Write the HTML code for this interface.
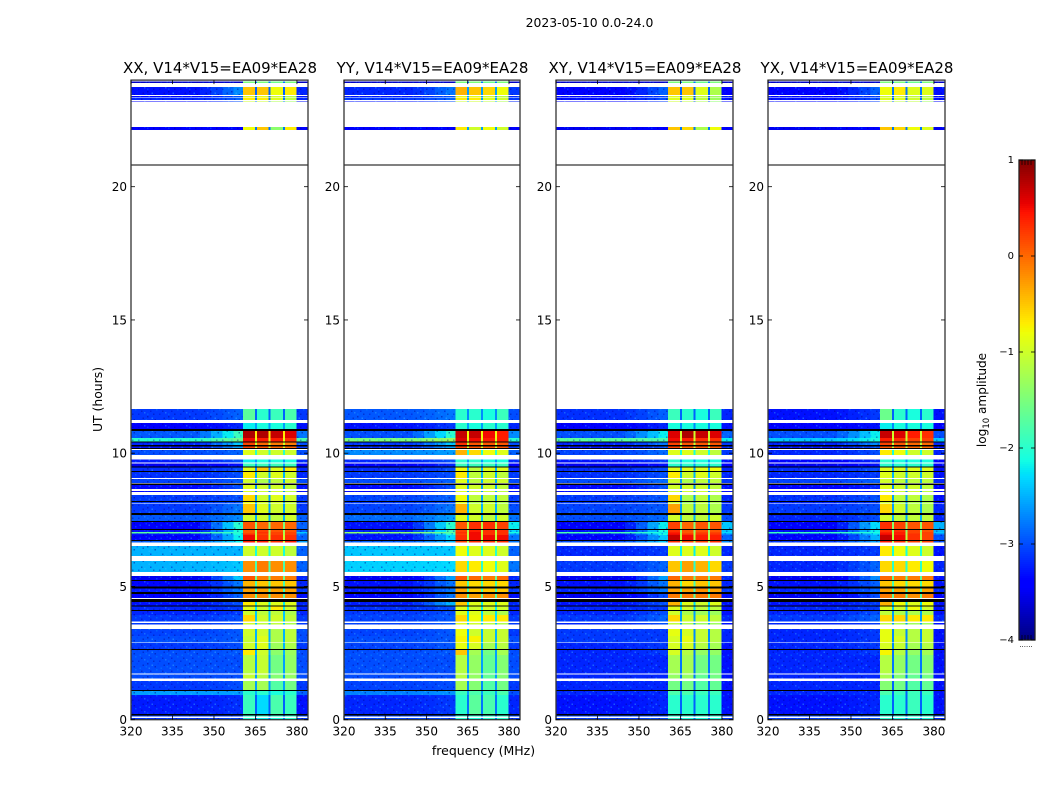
<!DOCTYPE html>
<html lang="en">
<head>
<meta charset="utf-8">
<title>2023-05-10 visibility amplitude waterfall</title>
<style>
html,body{margin:0;padding:0;background:#fff;width:1050px;height:800px;overflow:hidden}
svg{display:block}
text{font-family:"DejaVu Sans","Liberation Sans",sans-serif;fill:#000}
</style>
</head>
<body>
<svg id="chart" xmlns="http://www.w3.org/2000/svg" width="1050" height="800" viewBox="0 0 1050 800">
<defs>
<pattern id="speckle" patternUnits="userSpaceOnUse" width="21" height="13">
<rect x="0" y="0" width="1.5" height="1.5" fill="#00008f" opacity=".45"/>
<rect x="4.5" y="1.5" width="1.5" height="1.5" fill="#40c0ff" opacity=".4"/>
<rect x="10.5" y="0" width="1.5" height="1.5" fill="#0030ff" opacity=".4"/>
<rect x="16.5" y="1.5" width="1.5" height="1.5" fill="#00008f" opacity=".4"/>
<rect x="1.5" y="4.5" width="1.5" height="1.5" fill="#40c0ff" opacity=".35"/>
<rect x="7.5" y="3" width="1.5" height="1.5" fill="#00008f" opacity=".45"/>
<rect x="13.5" y="4.5" width="1.5" height="1.5" fill="#00a0ff" opacity=".35"/>
<rect x="19.5" y="3" width="1.5" height="1.5" fill="#00a0ff" opacity=".3"/>
<rect x="3" y="7.5" width="1.5" height="1.5" fill="#0000c0" opacity=".45"/>
<rect x="9" y="6" width="1.5" height="1.5" fill="#00a0ff" opacity=".35"/>
<rect x="15" y="7.5" width="1.5" height="1.5" fill="#00008f" opacity=".4"/>
<rect x="18" y="9" width="1.5" height="1.5" fill="#40c0ff" opacity=".35"/>
<rect x="6" y="10.5" width="1.5" height="1.5" fill="#00008f" opacity=".4"/>
<rect x="12" y="10.5" width="1.5" height="1.5" fill="#0000c0" opacity=".4"/>
<rect x="0" y="10.5" width="1.5" height="1.5" fill="#00a0ff" opacity=".3"/>
</pattern>
</defs>
</svg>
<script>
/* ---- tick labels and categories ---- */
const panelTitles = ["XX, V14*V15=EA09*EA28","YY, V14*V15=EA09*EA28","XY, V14*V15=EA09*EA28","YX, V14*V15=EA09*EA28"];
const freqTicks = [320,335,350,365,380];
const hourTicks = [0,5,10,15,20];
const colorTicks = [1,0,-1,-2,-3,-4];

/* ---- frequency bins (MHz) ---- */
const freqBinStart = [320,345,349,353,357,360.5,364.8,365.5,369.8,370.5,374.9,375.6,379.9];
const freqBinEnd   = [345,349,353,357,360.5,364.8,365.5,369.8,370.5,374.9,375.6,379.9,384];
/* level slot for each bin: 0-1 blends bg to edge, 2-5 sub-bands, 6 gap, 7 right */
const freqBinLevel = [0,0.15,0.4,0.7,1,2,6,3,6,4,6,5,7];

/* ---- time rows (hours UT) ---- */
const rowStart = [23.89,23.44,23.36,23.25,23.19,22.13,11.25,10.90,10.57,10.44,10.30,10.20,9.93,9.66,9.50,9.33,9.07,8.88,8.65,8.55,8.21,8.12,7.75,7.46,7.16,7.05,6.98,6.93,6.74,6.64,6.14,5.54,5.24,4.99,4.80,4.57,4.28,4.12,3.93,3.68,3.57,3.15,2.90,2.66,2.43,1.74,1.54,1.11,0.93,0.21,0.12,0];
const rowEnd   = [23.94,23.74,23.40,23.34,23.22,22.24,11.66,11.13,10.83,10.57,10.41,10.26,10.12,9.77,9.62,9.47,9.31,9.03,8.81,8.58,8.43,8.18,8.09,7.68,7.41,7.12,7.05,6.98,6.93,6.71,6.52,5.95,5.39,5.20,4.92,4.72,4.42,4.26,4.08,3.93,3.62,3.40,3.15,2.87,2.63,2.43,1.70,1.45,1.08,0.93,0.16,0.06];

/* ---- flagged (black) intervals, hours UT ---- */
const flagStart = [20.79,10.83,10.41,10.26,10.16,9.47,9.31,8.81,8.18,7.68,7.41,7.12,6.71,5.21,4.92,4.72,4.42,4.26,4.08,2.63,1.08,0.16];
const flagEnd   = [20.84,10.90,10.44,10.30,10.20,9.50,9.33,8.87,8.21,7.75,7.46,7.16,6.74,5.24,4.99,4.79,4.53,4.28,4.12,2.66,1.11,0.21];

/* ---- log10 amplitude per row: [bg,edge,b1,b2,b3,b4,gap,right] ---- */
const xxLevels = [
[-3.7,-3.7,-1.5,-1.5,-1.6,-1.5,-2.8,-3.7],[-3.3,-2.7,-0.5,-0.5,-0.8,-0.7,-2.9,-3.2],[-3.4,-3,-0.9,-0.9,-1,-1.2,-2.8,-3.3],[-3.2,-2.9,-0.7,-0.7,-0.9,-1.1,-2.8,-3.2],[-3.4,-3,-1,-1,-1.2,-1.3,-2.8,-3.3],[-3.4,-3.4,-0.8,-0.5,-1.4,-0.7,-2.8,-3.4],
[-3.1,-2.9,-1.7,-2,-1.9,-1.8,-2.9,-3.1],[-3.4,-3.2,-2.2,-2.1,-2.1,-2,-2.6,-3.3],[-2.95,-1.9,0.8,0.8,0.7,0.6,-0.7,-2.8],[-2,-1.6,0.5,0.4,0.4,0.3,-0.9,-1.8],[-3.2,-2.4,0.2,0,-0.1,-0.1,-1,-3],[-3.3,-2.6,0.2,0.1,0,0,-1,-3.1],
[-3,-2.9,-0.9,-1,-1,-1,-2,-3],[-3.25,-3,-2.2,-2.1,-2.1,-2.1,-2.6,-3.2],[-3.5,-3.3,-1.9,-1.9,-1.9,-1.9,-2.6,-3.4],[-3.15,-3,-0.9,-0.5,-0.9,-0.7,-2.7,-3.2],[-3.15,-3,-0.7,-1,-0.9,-1,-2.5,-3.2],[-3.05,-2.95,-1,-1.2,-1.1,-1,-2.6,-3],
[-3.35,-3,-0.9,-1,-1,-1.1,-2.7,-3.3],[-3.35,-3,-0.9,-1,-1,-1.1,-2.7,-3.3],[-3.1,-3,-0.6,-1,-0.9,-1,-2.6,-3.1],[-3.1,-3,-0.8,-1,-1,-1.1,-2.6,-3.1],[-3.1,-2.8,-0.5,-0.9,-1,-1,-2.6,-3.1],[-2.95,-2.7,-1,-1,-1.1,-1,-2.5,-2.9],
[-3.4,-2,0.1,0,0,0,-1.5,-2.9],[-3.3,-2.1,0.1,0.2,0.1,0.1,-1.3,-2.9],[-1.7,-2,0.1,0.3,0.2,0.2,-1.2,-2.4],[-3.3,-2.1,0.3,0.2,0.2,0.2,-1.2,-2.8],[-3.4,-2.2,0.5,0.3,0.3,0.3,-1,-2.9],[-2.9,-2.2,0.4,0.4,0.3,0.4,-1,-2.6],
[-2.5,-2.5,-1,-1,-1,-1.1,-2.1,-2.9],[-2.5,-2.4,-0.2,-0.1,-0.2,-0.2,-1.8,-2.9],[-3.5,-2.4,0.1,-0.1,-0.1,-0.1,-1.6,-3.2],[-3.35,-2.8,-0.4,-0.5,-0.5,-0.5,-1.8,-3.2],[-3.25,-2.8,-0.3,-0.3,-0.3,-0.3,-1.9,-3.1],[-3.4,-2.9,-0.2,-0.2,-0.2,-0.2,-1.7,-3.3],
[-3.3,-3,-0.7,-0.9,-0.9,-0.9,-2.2,-3.2],[-3.2,-3.1,-0.9,-1,-0.7,-1,-2.2,-3.2],[-3.2,-3.1,-1,-1.1,-1.1,-1.2,-2.4,-3.2],[-3.1,-3,-0.6,-1,-1,-1.1,-2.4,-3.1],[-3.1,-3,-1,-1.1,-1.1,-1.2,-2.4,-3.1],
[-3.05,-2.95,-1,-1,-1.2,-1.1,-2.5,-3],[-3,-2.95,-1.05,-0.9,-1.2,-1.1,-2.5,-3],[-3.1,-3,-1,-0.9,-1.3,-1.2,-2.5,-3.1],[-3,-2.95,-0.7,-1,-1.4,-1.3,-2.5,-3],[-3,-3,-1.15,-1.05,-1.55,-1.35,-2.6,-3],[-3,-3,-1.05,-1.15,-1.45,-1.35,-2.6,-3],[-3.1,-3,-1.25,-1.25,-1.75,-1.55,-2.6,-3.1],
[-2.6,-2.6,-2,-2,-2.1,-2,-2.5,-2.9],[-3.25,-3.15,-1.9,-2.3,-1.8,-1.9,-2.9,-3.3],[-3.1,-3.1,-2,-2,-2,-2,-2.8,-3],[-3.15,-3.05,-2,-2.2,-2.1,-2,-2.8,-3.1]
];
const yyLevels = [
[-3.7,-3.7,-1.5,-1.5,-1.6,-1.5,-2.8,-3.7],[-3.2,-2.8,-0.4,-0.5,-0.6,-0.8,-2.6,-3.1],[-3.3,-3,-0.9,-0.9,-1,-1.2,-2.6,-3.2],[-3.1,-2.9,-0.7,-0.7,-0.9,-1,-2.6,-3.1],[-3.3,-3,-1,-1,-1.1,-1.2,-2.6,-3.2],[-3.4,-3.4,-0.7,-1,-0.8,-1,-2.6,-3.4],
[-2.95,-2.8,-2,-2,-2.1,-1.9,-2.7,-3],[-3.3,-3.1,-2,-2.1,-2,-2,-2.6,-3.2],[-3,-2,0.7,0.7,0.5,0.4,-0.8,-2.7],[-1.5,-1.3,0.6,0.5,0.4,0.4,-0.9,-2],[-3.1,-2.4,0.3,0.1,0.1,0.1,-1,-3],[-3.2,-2.6,0.2,0.1,0.1,0.1,-1,-3.1],
[-2.7,-2.6,-0.4,-0.6,-0.8,-0.9,-2,-2.9],[-3.2,-3,-2,-2,-2.1,-2.1,-2.6,-3.2],[-3.4,-3.2,-1.9,-1.9,-1.9,-1.9,-2.6,-3.4],[-3.15,-3,-0.8,-1.1,-0.9,-0.9,-2.5,-3.2],[-3.1,-3,-0.7,-1.1,-1,-1.1,-2.5,-3.1],[-3,-2.9,-0.9,-1.1,-1,-1,-2.5,-3],
[-3.35,-3,-0.9,-1,-1,-1.1,-2.6,-3.3],[-3.35,-3,-0.9,-1,-1,-1.1,-2.6,-3.3],[-3.05,-2.9,-0.8,-1.1,-1.1,-1.1,-2.6,-3.1],[-3.1,-3,-0.9,-1.2,-1.1,-1.2,-2.6,-3.1],[-3.05,-2.8,-0.4,-1,-1,-1.1,-2.5,-3],[-2.85,-2.6,-0.9,-1,-1.1,-1,-2.4,-2.8],
[-3.3,-2,0.1,0.3,0.3,0.2,-1.2,-2.2],[-3.2,-1.9,0.2,0.4,0.3,0.3,-1.2,-2.3],[-1.4,-1.7,0.3,0.5,0.3,0.3,-1,-2.1],[-3.2,-2,0.2,0.5,0.3,0.3,-1.1,-2.6],[-3.3,-2.3,0.3,0.5,0.5,0.5,-1.1,-2.8],[-2.9,-2.5,0.2,0.3,0.3,0.3,-1.2,-2.8],
[-2.4,-2.4,-0.8,-0.9,-0.9,-1,-2,-2.9],[-2.35,-2.3,-0.6,-0.7,-0.8,-0.9,-2,-2.8],[-3.5,-2.6,0.1,0,-0.1,0,-1.6,-3.2],[-3.3,-2.8,-0.5,-0.6,-0.6,-0.6,-1.8,-3.2],[-3.25,-2.8,-0.3,-0.5,-0.5,-0.5,-1.9,-3.1],[-3.4,-2.8,-0.2,-0.3,-0.2,-0.2,-1.7,-3.3],
[-3.25,-2.5,-0.5,-0.9,-0.9,-0.9,-2.2,-3.2],[-3.15,-3,-0.9,-1,-1,-1,-2.2,-3.2],[-3.1,-3,-0.9,-0.9,-1.1,-1.2,-2.3,-3.2],[-3.05,-2.95,-0.6,-0.8,-0.7,-0.7,-2.3,-3.1],[-3.05,-2.95,-0.9,-1,-1.1,-1.2,-2.4,-3.1],
[-3.05,-2.95,-0.8,-1,-1.05,-1.05,-2.5,-3.1],[-3,-2.95,-0.75,-0.75,-1.05,-1.05,-2.5,-3],[-3.05,-2.95,-0.85,-0.95,-1.25,-1.15,-2.5,-3.1],[-3,-2.95,-0.5,-1.25,-1.55,-1.25,-2.6,-3],[-3,-3,-1.15,-1.35,-1.65,-1.45,-2.6,-3],[-3,-3,-1.15,-1.35,-1.65,-1.45,-2.6,-3],[-3.05,-3,-1.25,-1.45,-1.75,-1.55,-2.7,-3.1],
[-2.75,-2.65,-1.9,-1.8,-1.9,-1.8,-2.6,-3],[-3.2,-3.1,-2,-1.7,-1.8,-2,-2.8,-3.2],[-3.05,-3.05,-2,-2,-2,-2,-2.8,-3],[-3.05,-3.05,-2,-2.1,-2,-2,-2.8,-3.1]
];
const xyLevels = [
[-3.7,-3.7,-1.5,-1.5,-1.6,-1.5,-2.8,-3.7],[-3.4,-2.9,-0.5,-0.5,-0.9,-1.2,-2.9,-3.4],[-3.4,-3.1,-0.9,-1,-1.1,-1.3,-3,-3.3],[-3.3,-3,-0.9,-0.9,-1.1,-1.3,-3,-3.3],[-3.4,-3.1,-1,-1.1,-1.2,-1.4,-3,-3.4],[-3.5,-3.4,-0.5,-0.6,-1.2,-0.8,-2.8,-3.4],
[-3.15,-2.9,-1.9,-2,-2.1,-1.9,-2.9,-3.2],[-3.4,-3.2,-2.1,-2.1,-2.1,-2.1,-2.7,-3.3],[-3,-2.2,0.6,0.8,0.7,0.6,-1,-2.9],[-1.7,-1.8,0.5,0.4,0.3,0.3,-1,-2.2],[-3.2,-2.8,0.2,0.1,0.1,0.1,-1.1,-3.1],[-3.3,-3,0.2,0.1,0.1,0.1,-1.1,-3.2],
[-3.05,-2.85,-0.9,-0.9,-1,-1.1,-2.1,-3.1],[-3.3,-3.1,-2,-2.1,-2.1,-2.1,-2.6,-3.3],[-3.5,-3.3,-2,-2,-2,-2,-2.6,-3.4],[-3.15,-3,-0.9,-0.9,-0.9,-0.8,-2.6,-3.2],[-3.15,-3,-0.7,-1,-0.9,-1,-2.5,-3.2],[-3,-2.85,-1,-1.2,-1.1,-1.1,-2.6,-3.1],
[-3.35,-3,-1,-1,-1,-1.1,-2.7,-3.3],[-3.35,-3,-1,-1,-1,-1.1,-2.7,-3.3],[-3.1,-2.95,-0.6,-1.2,-1.1,-1.2,-2.6,-3.2],[-3.1,-3,-1,-1.3,-1.1,-1.2,-2.6,-3.2],[-3.05,-2.95,-0.3,-1.1,-1.1,-1.2,-2.6,-3.1],[-3,-2.85,-1,-1.1,-1.1,-1,-2.5,-3],
[-3.4,-2.2,0.2,0,0.1,0.1,-1.5,-2.4],[-3.3,-2.1,0.3,0.1,0.1,0.1,-1.4,-2.4],[-1.8,-2.2,0.4,0.1,0.2,0.2,-1.3,-2.3],[-3.3,-2.1,0.5,0.3,0.3,0.3,-1.2,-2.7],[-3.4,-2.4,0.7,0.5,0.4,0.4,-1.1,-2.9],[-3,-2.4,0.3,0.2,0.2,0.3,-1.2,-2.7],
[-3.2,-3.1,-0.9,-0.9,-0.9,-1,-2.2,-3.2],[-3.1,-2.9,-0.5,-0.3,-0.4,-0.6,-2,-3.1],[-3.5,-2.6,0,-0.1,-0.1,-0.1,-1.6,-3.2],[-3.3,-2.8,-0.4,-0.6,-0.5,-0.5,-1.8,-3.2],[-3.2,-2.8,-0.3,-0.3,-0.2,-0.3,-1.9,-3.1],[-3.5,-3,-0.1,-0.1,-0.1,-0.1,-1.7,-3.3],
[-3.3,-3,-0.4,-0.9,-1,-0.9,-2.3,-3.3],[-3.2,-3.1,-0.9,-1,-1.1,-1.1,-2.3,-3.3],[-3.2,-3,-1,-1.2,-1.3,-1.3,-2.6,-3.3],[-3.1,-2.9,-0.6,-1,-1,-1.1,-2.6,-3.2],[-3.2,-3,-1.1,-1.2,-1.3,-1.3,-2.6,-3.3],
[-3.1,-3.1,-0.85,-0.95,-1.05,-1.15,-2.7,-3.2],[-3.1,-3.1,-0.95,-0.85,-1.05,-1.15,-2.7,-3.2],[-3.2,-3.1,-0.95,-0.95,-1.15,-1.25,-2.7,-3.3],[-3.2,-3.1,-0.95,-1.15,-1.35,-1.35,-2.8,-3.3],[-3.2,-3.2,-1.25,-1.25,-1.55,-1.55,-2.8,-3.3],[-3.2,-3.2,-1.35,-1.35,-1.65,-1.55,-2.8,-3.3],[-3.2,-3.2,-1.55,-1.55,-1.75,-1.65,-2.9,-3.3],
[-3.2,-3.2,-1.8,-1.8,-1.9,-1.9,-2.8,-3.3],[-3.3,-3.2,-2,-2,-2,-2,-2.9,-3.3],[-3.05,-3.05,-2,-2,-2,-2,-2.8,-3],[-3.1,-3,-2,-2.1,-2.1,-2.1,-2.8,-3.1]
];
const yxLevels = [
[-3.7,-3.7,-1.5,-1.5,-1.6,-1.5,-2.8,-3.7],[-3.4,-2.9,-0.8,-0.7,-0.9,-0.9,-2.8,-3.3],[-3.4,-3.1,-1,-1,-1.1,-1.2,-2.9,-3.4],[-3.3,-3,-0.9,-0.9,-1,-1.1,-2.9,-3.3],[-3.4,-3.1,-1,-1.1,-1.1,-1.3,-2.9,-3.4],[-3.5,-3.4,-0.5,-0.6,-0.8,-0.9,-2.8,-3.5],
[-3.3,-3.1,-1.6,-2,-2.1,-2,-2.9,-3.3],[-3.4,-3.3,-2.2,-2.1,-2.1,-2.1,-2.7,-3.4],[-3,-2.2,0.7,0.6,0.4,0.3,-1,-3],[-2.4,-2.1,0.4,0.3,0.2,0.2,-1,-2.4],[-3.2,-2.7,0.2,0.1,0,0,-1.1,-3.2],[-3.3,-3,0.1,0.1,0,0,-1.1,-3.3],
[-3.2,-3,-0.7,-0.8,-1,-1,-2.1,-3.2],[-3.4,-3.2,-2,-2.1,-2.1,-2.1,-2.6,-3.4],[-3.5,-3.3,-2,-2,-2,-2,-2.6,-3.4],[-3.15,-3,-0.9,-0.9,-0.9,-0.9,-2.6,-3.3],[-3.2,-3.1,-0.9,-1,-1,-1,-2.5,-3.3],[-3.05,-2.9,-1,-1.1,-1.1,-1.1,-2.6,-3.2],
[-3.4,-3.2,-0.9,-1,-1,-1.1,-2.7,-3.4],[-3.4,-3.2,-0.9,-1,-1,-1.1,-2.7,-3.4],[-3.15,-3,-0.7,-1.1,-1.1,-1.2,-2.6,-3.3],[-3.2,-3.1,-1,-1.2,-1.2,-1.2,-2.6,-3.3],[-3.1,-3,-0.6,-1,-1.1,-1.2,-2.6,-3.2],[-3.2,-3,-1,-1.1,-1.1,-1.1,-2.5,-3.2],
[-3.4,-2.3,0.3,0.2,0.1,0.1,-1.4,-2.5],[-3.3,-2.2,0.3,0.3,0.2,0.1,-1.4,-2.5],[-1.9,-2.1,0.4,0.4,0.2,0.2,-1.2,-2.4],[-3.3,-2.3,0.5,0.4,0.3,0.2,-1.2,-2.8],[-3.4,-2.5,0.7,0.5,0.3,0.2,-1.1,-3],[-3.1,-2.6,0.4,0.3,0.2,0.2,-1.2,-3],
[-3.2,-3.1,-0.7,-0.8,-0.9,-1,-2.1,-3.3],[-3.2,-2.9,-0.6,-0.6,-0.7,-0.8,-2,-3.2],[-3.5,-2.7,0,-0.1,-0.1,-0.1,-1.7,-3.3],[-3.3,-2.9,-0.5,-0.6,-0.6,-0.6,-1.8,-3.3],[-3.2,-2.9,-0.3,-0.3,-0.4,-0.3,-1.9,-3.2],[-3.5,-3,-0.1,-0.1,-0.2,-0.1,-1.7,-3.4],
[-3.3,-3.1,-0.4,-0.8,-0.9,-0.8,-2.3,-3.3],[-3.2,-3.1,-0.9,-1,-0.8,-1,-2.4,-3.3],[-3.2,-3,-1.1,-1.2,-1.2,-1.2,-2.6,-3.3],[-3.1,-2.9,-0.6,-0.6,-0.7,-0.7,-2.6,-3.2],[-3.2,-3.1,-1.1,-1.2,-1.3,-1.3,-2.6,-3.3],
[-3.2,-3.1,-0.85,-1.05,-1.15,-1.05,-2.7,-3.3],[-3.2,-3.1,-0.85,-0.95,-1.15,-1.05,-2.7,-3.3],[-3.2,-3.1,-0.95,-1.05,-1.25,-1.15,-2.7,-3.3],[-3.2,-3.1,-0.75,-1.15,-1.35,-1.25,-2.8,-3.3],[-3.2,-3.2,-1.15,-1.35,-1.55,-1.45,-2.8,-3.3],[-3.2,-3.2,-1.25,-1.45,-1.65,-1.55,-2.8,-3.3],[-3.2,-3.2,-1.45,-1.55,-1.75,-1.65,-2.9,-3.3],
[-3.2,-3.2,-1.8,-1.9,-1.9,-1.9,-2.9,-3.3],[-3.3,-3.2,-2,-2,-1.9,-2,-2.9,-3.3],[-3.05,-3.05,-2,-2,-2,-2,-2.8,-3],[-3.1,-3,-2,-2.1,-2.1,-2.1,-2.8,-3.2]
];
const panelLevels = [xxLevels,yyLevels,xyLevels,yxLevels];
const panelKeys = ["xx","yy","xy","yx"];

/* ---- layout ---- */
const NS = "http://www.w3.org/2000/svg";
const svg = document.getElementById("chart");
const panelLeft = [131,344,556,768];
const panelWidth = [177,176,177,177];
const plotTop = 80.1, plotBottom = 719.7;
const freqMin = 320, freqMax = 384, hourMin = 0, hourMax = 24;
const cbarLeft = 1019, cbarWidth = 16, cbarTop = 160, cbarBottom = 640, levelMin = -4, levelMax = 1;

function xScale(p, f){ return panelLeft[p] + (f - freqMin) / (freqMax - freqMin) * panelWidth[p]; }
function yScale(h){ return plotBottom - (h - hourMin) / (hourMax - hourMin) * (plotBottom - plotTop); }
function cbarScale(v){ return cbarBottom - (v - levelMin) / (levelMax - levelMin) * (cbarBottom - cbarTop); }

function ramp(t, a, b){ return Math.max(0, Math.min(1, (t - a) / (b - a))); }
function jet(v){
  const t = Math.max(0, Math.min(1, (v - levelMin) / (levelMax - levelMin)));
  const r = t < 0.89 ? ramp(t, 0.35, 0.66) : 1 - 0.5 * ramp(t, 0.89, 1);
  const g = t < 0.5 ? ramp(t, 0.125, 0.375) : 1 - ramp(t, 0.64, 0.91);
  const b = t < 0.11 ? 0.5 + 0.5 * ramp(t, 0, 0.11) : 1 - ramp(t, 0.34, 0.65);
  return "rgb(" + Math.round(r * 255) + "," + Math.round(g * 255) + "," + Math.round(b * 255) + ")";
}
function make(tag, attrs, parent){
  const el = document.createElementNS(NS, tag);
  for (const k in attrs) el.setAttribute(k, attrs[k]);
  (parent || svg).appendChild(el);
  return el;
}
function label(x, y, str, size, anchor, parent){
  const t = make("text", {x: x, y: y, "font-size": size, "text-anchor": anchor}, parent);
  t.textContent = str;
  return t;
}
function levelAt(row, slot){
  return slot <= 1 ? row[0] + (row[1] - row[0]) * slot : row[slot];
}

/* ---- figure title ---- */
const sup = label(589.5, 27, "2023-05-10 0.0-24.0", 12.4, "middle");



/* ---- panels ---- */
panelLevels.forEach(function(levels, p){
  const g = make("g", {});
  
  

  const cells = make("g", {"shape-rendering": "crispEdges"}, g);
  
  

  levels.forEach(function(row, r){
    const y0 = yScale(rowEnd[r]);
    const y1 = yScale(rowStart[r]);
    freqBinStart.forEach(function(f0, c){
      const v = levelAt(row, freqBinLevel[c]);
      const cell = make("rect", {x: xScale(p, f0), y: y0, width: xScale(p, freqBinEnd[c]) - xScale(p, f0), height: Math.max(0.8, y1 - y0), fill: jet(v)}, cells);
      
      
    });
    const tex = make("rect", {x: xScale(p, freqMin), y: y0, width: xScale(p, 360.5) - xScale(p, freqMin), height: Math.max(0.8, y1 - y0), fill: "url(#speckle)"}, cells);
    
    
    const tex2 = make("rect", {x: xScale(p, 380), y: y0, width: xScale(p, freqMax) - xScale(p, 380), height: Math.max(0.8, y1 - y0), fill: "url(#speckle)"}, cells);
    
    
  });

  flagStart.forEach(function(h0, i){
    const y0 = yScale(flagEnd[i]);
    const y1 = yScale(h0);
    const flag = make("rect", {x: xScale(p, freqMin), y: y0, width: panelWidth[p], height: Math.max(1, y1 - y0), fill: "#000"}, cells);
    
    
  });

  const frame = make("rect", {x: panelLeft[p], y: plotTop, width: panelWidth[p], height: plotBottom - plotTop, fill: "none", stroke: "#333", "stroke-width": 1.3}, g);
  
  

  freqTicks.forEach(function(f){
    const x = xScale(p, f);
    const tb = make("line", {x1: x, x2: x, y1: plotBottom, y2: plotBottom - 4, stroke: "#000", "stroke-width": 0.8}, g);
    
    
    const tt = make("line", {x1: x, x2: x, y1: plotTop, y2: plotTop + 4, stroke: "#000", "stroke-width": 0.8}, g);
    
    
    const tl = label(x, 735.5, String(f), 12, "middle", g);
    
    
  });

  hourTicks.forEach(function(h){
    const y = yScale(h);
    const tb = make("line", {x1: panelLeft[p], x2: panelLeft[p] + 4, y1: y, y2: y, stroke: "#000", "stroke-width": 0.8}, g);
    
    
    const tr = make("line", {x1: panelLeft[p] + panelWidth[p], x2: panelLeft[p] + panelWidth[p] - 4, y1: y, y2: y, stroke: "#000", "stroke-width": 0.8}, g);
    
    
    const tl = label(panelLeft[p] - 4, y + 4.5, String(h), 12, "end", g);
    
    
  });

  const title = label(panelLeft[p] + panelWidth[p] / 2 + 0.5, 73, panelTitles[p], 15, "middle", g);
  
  
});

/* ---- axis titles ---- */
const xTitle = label(483.5, 755, "frequency (MHz)", 12.5, "middle");


const yTitle = label(0, 0, "UT (hours)", 12.4, "middle");
yTitle.setAttribute("transform", "translate(102,399.5) rotate(-90)");



/* ---- colorbar ---- */
const cbar = make("g", {});


const cbarRamp = make("g", {"shape-rendering": "crispEdges"}, cbar);


for (let py = cbarTop; py < cbarBottom; py += 2){
  const v = levelMin + (cbarBottom - py - 1) / (cbarBottom - cbarTop) * (levelMax - levelMin);
  const strip = make("rect", {x: cbarLeft, y: py, width: cbarWidth, height: 2.2, fill: jet(v)}, cbarRamp);
  
  
}
const cbarFrame = make("rect", {x: cbarLeft, y: cbarTop, width: cbarWidth, height: cbarBottom - cbarTop, fill: "none", stroke: "#222", "stroke-width": 1.3}, cbar);



colorTicks.forEach(function(v){
  const y = cbarScale(v);
  const a = make("line", {x1: cbarLeft, x2: cbarLeft + 4, y1: y, y2: y, stroke: "#000", "stroke-width": 0.8}, cbar);
  
  
  const b = make("line", {x1: cbarLeft + cbarWidth, x2: cbarLeft + cbarWidth - 4, y1: y, y2: y, stroke: "#000", "stroke-width": 0.8}, cbar);
  
  
  const t = label(1014, y + 3, v < 0 ? "\u2212" + Math.abs(v) : String(v), 10, "end", cbar);
  
  
});
const minorOffsets = [3,6,9,12];
minorOffsets.forEach(function(dx){
  const top = make("line", {x1: cbarLeft + dx, x2: cbarLeft + dx, y1: cbarTop, y2: cbarTop + 5, stroke: "#000", "stroke-width": 0.7}, cbar);
  
  
  const bottom = make("line", {x1: cbarLeft + dx, x2: cbarLeft + dx, y1: cbarBottom, y2: cbarBottom - 5, stroke: "#000", "stroke-width": 0.7}, cbar);
  
  
});
const dots = make("text", {x: 1026, y: 647, "font-size": 7, "text-anchor": "middle", fill: "#555"}, cbar);
dots.textContent = "......";



const cbarTitle = make("text", {"font-size": 12.1, "text-anchor": "middle", transform: "translate(986,400) rotate(-90)"}, cbar);


const s1 = make("tspan", {}, cbarTitle);
s1.textContent = "log";
const s2 = make("tspan", {dy: 3, "font-size": 8.5}, cbarTitle);
s2.textContent = "10";
const s3 = make("tspan", {dy: -3}, cbarTitle);
s3.textContent = " amplitude";
</script>
</body>
</html>
